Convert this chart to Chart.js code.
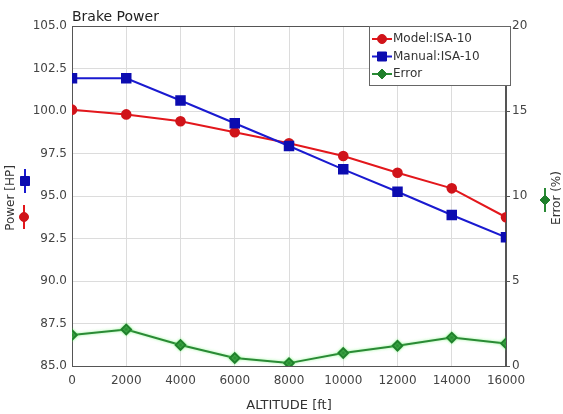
<!DOCTYPE html>
<html>
<head>
<meta charset="utf-8">
<script src="https://cdn.jsdelivr.net/npm/chart.js@4"></script>
<style>
html,body{margin:0;padding:0;background:#fff;}
#wrap{width:563px;height:414px;position:relative;}
</style>
</head>
<body>
<div id="wrap"><canvas id="c" width="563" height="414"></canvas></div>
<script>
const altitudes = [0, 2000, 4000, 6000, 8000, 10000, 12000, 14000, 16000];
const modelPower = [100.08, 99.80, 99.40, 98.75, 98.10, 97.35, 96.37, 95.45, 93.75];
const manualPower = [101.92, 101.92, 100.62, 99.28, 97.94, 96.57, 95.25, 93.88, 92.57];
const errorPct = [1.82, 2.15, 1.24, 0.47, 0.17, 0.76, 1.19, 1.67, 1.33];
const seriesNames = ['Model:ISA-10', 'Manual:ISA-10', 'Error'];
const chartTitle = 'Brake Power';
const xTitle = 'ALTITUDE [ft]';
const yTitle = 'Power [HP]';
const y2Title = 'Error (%)';

const FONT = '"DejaVu Sans", "Liberation Sans", Arial, sans-serif';
const RED = '#e3171c', RED_M = '#d0141a';
const BLUE = '#1a1ad0', BLUE_M = '#0c0cb0';
const GREEN = '#2a8a35', GREEN_M = '#20802c';

function pts(vals){ return altitudes.map((a,i)=>({x:a, y:vals[i]})); }

function marker(ctx, style, x, y, color){
  ctx.save();
  ctx.fillStyle = color; ctx.strokeStyle = color; ctx.lineWidth = 1;
  ctx.beginPath();
  if (style === 'circle') { ctx.arc(x, y, 4.5, 0, Math.PI*2); }
  else if (style === 'rect') { ctx.rect(x-4.5, y-4.5, 9, 9); }
  else { ctx.moveTo(x, y-5); ctx.lineTo(x+5, y); ctx.lineTo(x, y+5); ctx.lineTo(x-5, y); ctx.closePath(); }
  ctx.fill(); ctx.stroke();
  ctx.restore();
}
function hIcon(ctx, style, x, y, lineColor, mColor){
  ctx.save(); ctx.strokeStyle = lineColor; ctx.lineWidth = 2;
  ctx.beginPath(); ctx.moveTo(x-10, y); ctx.lineTo(x+10, y); ctx.stroke(); ctx.restore();
  marker(ctx, style, x, y, mColor);
}
function vIcon(ctx, style, x, y, lineColor, mColor){
  ctx.save(); ctx.strokeStyle = lineColor; ctx.lineWidth = 2;
  ctx.beginPath(); ctx.moveTo(x, y-12); ctx.lineTo(x, y+12); ctx.stroke(); ctx.restore();
  marker(ctx, style, x, y, mColor);
}

const decor = {
  id: 'decor',
  beforeDatasetsDraw(chart){
    const {ctx, chartArea:a} = chart;
    ctx.save();
    ctx.strokeStyle = '#555'; ctx.lineWidth = 1;
    ctx.strokeRect(a.left+0.5, a.top+0.5, a.right-a.left-1, a.bottom-a.top);
    ctx.restore();
  },
  beforeDatasetDraw(chart, args){
    if (args.index === 2) {
      chart.ctx.save();
      chart.ctx.shadowColor = 'rgba(110,245,110,0.7)';
      chart.ctx.shadowBlur = 3;
    }
  },
  afterDatasetDraw(chart, args){
    if (args.index === 2) chart.ctx.restore();
  },
  afterDraw(chart){
    const {ctx, chartArea:a} = chart;
    ctx.save();
    // title
    ctx.fillStyle = '#222'; ctx.font = '14px ' + FONT;
    ctx.textAlign = 'left'; ctx.textBaseline = 'middle';
    ctx.fillText(chartTitle, a.left, 17);
    // legend box
    const bx = 369, by = 26, bw = 141, bh = 59;
    ctx.fillStyle = '#fff'; ctx.fillRect(bx, by, bw, bh);
    ctx.strokeStyle = '#666'; ctx.lineWidth = 1;
    ctx.strokeRect(bx+0.5, by+0.5, bw, bh);
    const rows = [
      [seriesNames[0], 'circle', RED, RED_M],
      [seriesNames[1], 'rect', BLUE, BLUE_M],
      [seriesNames[2], 'diamond', GREEN, GREEN_M]
    ];
    ctx.font = '12px ' + FONT;
    rows.forEach((r, i) => {
      const y = 39 + i*17.5;
      hIcon(ctx, r[1], 382, y, r[2], r[3]);
      ctx.fillStyle = '#333'; ctx.textAlign = 'left'; ctx.textBaseline = 'middle';
      ctx.fillText(r[0], 393, y);
    });
    // left axis title
    ctx.save();
    ctx.translate(11, 198); ctx.rotate(-Math.PI/2);
    ctx.fillStyle = '#333'; ctx.font = '12px ' + FONT;
    ctx.textAlign = 'center'; ctx.textBaseline = 'middle';
    ctx.fillText(yTitle, 0, 0);
    ctx.restore();
    vIcon(ctx, 'rect', 25, 181, BLUE, BLUE_M);
    vIcon(ctx, 'circle', 24, 217, RED, RED_M);
    // right axis title
    ctx.save();
    ctx.translate(557, 198); ctx.rotate(-Math.PI/2);
    ctx.fillStyle = '#333'; ctx.font = '12px ' + FONT;
    ctx.textAlign = 'center'; ctx.textBaseline = 'middle';
    ctx.fillText(y2Title, 0, 0);
    ctx.restore();
    vIcon(ctx, 'diamond', 545, 200, GREEN, GREEN_M);
    ctx.restore();
  }
};

new Chart(document.getElementById('c'), {
  type: 'line',
  data: {
    datasets: [
      { label: seriesNames[0], data: pts(modelPower), yAxisID: 'y', order: 1,
        borderColor: RED, borderWidth: 2, backgroundColor: RED_M, pointBackgroundColor: RED_M,
        pointBorderColor: RED_M, pointStyle: 'circle', pointRadius: 4.3, tension: 0 },
      { label: seriesNames[1], data: pts(manualPower), yAxisID: 'y', order: 0,
        borderColor: BLUE, borderWidth: 2, backgroundColor: BLUE_M, pointBackgroundColor: BLUE_M,
        pointBorderColor: BLUE_M, pointStyle: 'rect', pointRadius: 6, tension: 0 },
      { label: seriesNames[2], data: pts(errorPct), yAxisID: 'y2', order: 2,
        borderColor: GREEN, borderWidth: 2, backgroundColor: GREEN_M, pointBackgroundColor: GREEN_M,
        pointBorderColor: GREEN_M, pointStyle: 'rectRot', pointRadius: 4.8, tension: 0 }
    ]
  },
  options: {
    responsive: false,
    animation: false,
    events: [],
    layout: { padding: { top: 26, left: 0, right: 0, bottom: 0 } },
    plugins: { legend: { display: false }, tooltip: { enabled: false }, title: { display: false } },
    scales: {
      x: {
        type: 'linear', min: 0, max: 16000,
        ticks: { stepSize: 2000, color: '#444', font: { family: FONT, size: 12 }, padding: 8, maxRotation: 0,
                 callback: v => String(v) },
        grid: { color: '#dcdcdc', drawTicks: false },
        border: { color: '#555' },
        title: { display: true, text: xTitle, color: '#333', font: { family: FONT, size: 13 }, padding: { top: 2, bottom: 1 } },
        afterFit: s => { s.height = 48; }
      },
      y: {
        position: 'left', min: 85, max: 105,
        ticks: { stepSize: 2.5, color: '#444', font: { family: FONT, size: 12 }, padding: 5,
                 callback: v => Number(v).toFixed(1) },
        grid: { color: '#dcdcdc', drawTicks: false },
        border: { color: '#555' },
        afterFit: s => { s.width = 72; }
      },
      y2: {
        position: 'right', min: 0, max: 20,
        ticks: { stepSize: 5, color: '#444', font: { family: FONT, size: 12 }, padding: 2 },
        grid: { drawOnChartArea: false, color: '#555', tickLength: 4 },
        border: { color: '#555' },
        afterFit: s => { s.width = 57; }
      }
    }
  },
  plugins: [decor]
});
</script>
</body>
</html>
